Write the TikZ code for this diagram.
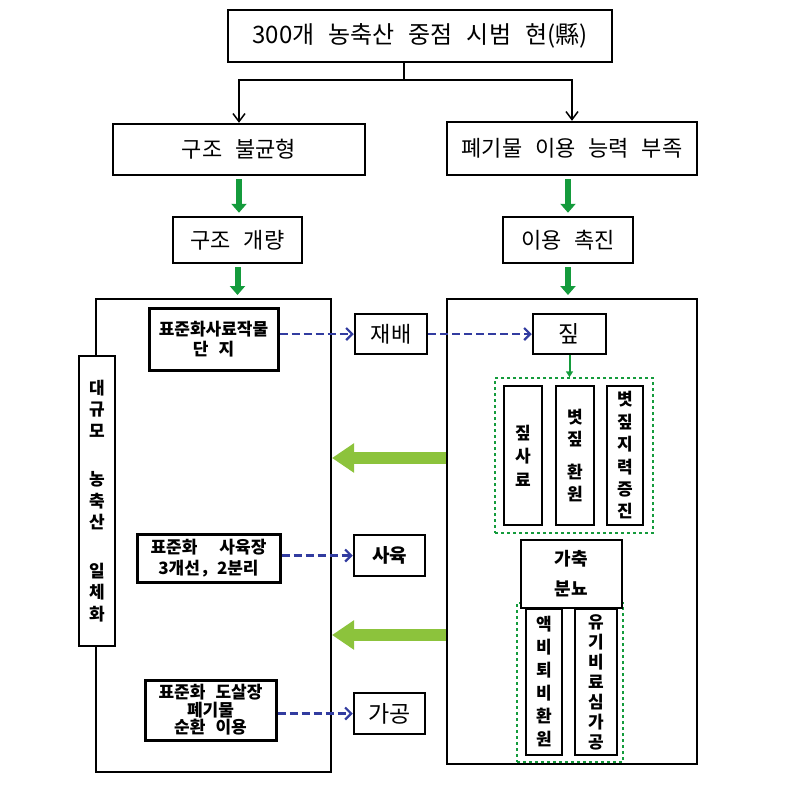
\documentclass[tikz,border=0pt]{standalone}
\usepackage{fontspec}
\setmainfont{Noto Sans CJK KR}[WordSpace=2.6]
\usetikzlibrary{arrows.meta}
\definecolor{darkgrn}{RGB}{20,155,60}
\definecolor{lightgrn}{RGB}{140,195,60}
\definecolor{dashblue}{RGB}{50,60,160}
\begin{document}
\begin{tikzpicture}[x=1pt,y=-1pt,
    box/.style={draw,line width=2.5pt,inner sep=0pt,fill=white,font=\fontsize{22}{24}\selectfont},
    bbox/.style={draw,line width=3pt,inner sep=0pt,align=center,font=\bfseries\fontsize{17}{#1}\selectfont},
    vbox/.style={draw,line width=2.5pt,inner sep=0pt,fill=white,align=center,font=\bfseries\fontsize{17}{#1}\selectfont},
    frame/.style={draw,line width=2pt,inner sep=0pt},
    grp/.style={draw=darkgrn,dashed,line width=1.5pt,inner sep=0pt},
    split/.style={line width=1.5pt,-{Straight Barb[length=8pt,width=12pt]}},
    down/.style={darkgrn,line width=6pt,-{Triangle[width=15pt,length=9pt]},shorten <=3pt,shorten >=3pt},
    back/.style={lightgrn,line width=12pt,-{Triangle[width=28pt,length=22pt]}},
    link/.style={dashblue,line width=2.2pt,dash pattern=on 8pt off 4pt,-{Straight Barb[length=6pt,width=12pt]}},
    feed/.style={darkgrn,line width=2pt,-{Triangle[width=7pt,length=6pt]}}]
    \useasboundingbox(0,0)rectangle(804,807);
    \node[box,minimum width=384pt,minimum height=52pt,font=\fontsize{24}{26}\selectfont](top)at(420,36){300개 농축산 중점 시범 현(縣)};
    \node[box,minimum width=252pt,minimum height=51pt](imbalance)at(239,149.5){구조 불균형};
    \node[box,minimum width=250pt,minimum height=53pt](shortage)at(572,148.5){폐기물 이용 능력 부족};
    \node[box,minimum width=129pt,minimum height=46pt](improve)at(237.5,240){구조 개량};
    \node[box,minimum width=130pt,minimum height=46pt](promote)at(568,240){이용 촉진};
    \node[frame,minimum width=235pt,minimum height=473pt](leftbig)at(213.5,535.5){};
    \node[frame,minimum width=250pt,minimum height=465pt](rightbig)at(572,531.5){};
    \node[vbox=21.5,minimum width=36pt,minimum height=290pt](scale)at(97,501){대\\규\\모\\[27pt]농\\축\\산\\[27pt]일\\체\\화};
    \node[bbox=20,minimum width=129pt,minimum height=62pt](feedcrop)at(213.5,339){표준화사료작물\\단 지};
    \node[bbox=21,minimum width=143pt,minimum height=48pt](pen)at(208.5,558){표준화\hspace{22pt}사육장\\3개선，2분리};
    \node[bbox=17.5,minimum width=131pt,minimum height=60pt](abattoir)at(210.5,710){표준화 도살장\\폐기물\\순환 이용};
    \node[box,minimum width=72pt,minimum height=40pt](cultivate)at(391,334){재배};
    \node[box,minimum width=71pt,minimum height=41pt,font=\bfseries\fontsize{19}{24}\selectfont](breed)at(389.5,555.5){사육};
    \node[box,minimum width=71pt,minimum height=41pt,font=\fontsize{23}{24}\selectfont](process)at(389.5,713.5){가공};
    \node[box,minimum width=73pt,minimum height=40pt,font=\fontsize{23}{24}\selectfont](straw)at(569.5,334){짚};
    \node[grp,minimum width=158pt,minimum height=155pt](strawgroup)at(574,455.5){};
    \node[vbox=23.5,minimum width=38pt,minimum height=139pt](fodder)at(523,455.5){짚\\사\\료};
    \node[vbox=22,minimum width=38pt,minimum height=139pt](return)at(575,455.5){볏\\짚\\[11pt]환\\원};
    \node[vbox=22.4,minimum width=36pt,minimum height=139pt](fertility)at(625,455.5){볏\\짚\\지\\력\\증\\진};
    \node[grp,minimum width=106pt,minimum height=159pt](manuregroup)at(570,682.5){};
    \node[vbox=30,minimum width=101pt,minimum height=68pt,font=\bfseries\fontsize{18}{30}\selectfont](manure)at(571.5,574){가축\\분뇨};
    \node[vbox=23,minimum width=36pt,minimum height=146pt](liquid)at(544,682){액\\비\\퇴\\비\\환\\원};
    \node[vbox=20,minimum width=42pt,minimum height=146pt](organic)at(596,682){유\\기\\비\\료\\심\\가\\공};
    \coordinate(fork)at(404,80);
    \coordinate(upper)at(0,458);
    \coordinate(lower)at(0,635);
    \draw[line width=1.5pt](fork|-top.south)--(fork);
    \draw[split](fork)-|(imbalance.north);
    \draw[split](fork)-|(shortage.north);
    \draw[down](imbalance.south)--(imbalance.south|-improve.north);
    \draw[down](improve.south)--(improve.south|-leftbig.north);
    \draw[down](promote.north|-shortage.south)--(promote.north);
    \draw[down](promote.south)--(promote.south|-rightbig.north);
    \draw[back](rightbig.west|-upper)--(leftbig.east|-upper);
    \draw[back](rightbig.west|-lower)--(leftbig.east|-lower);
    \draw[link](feedcrop.east|-cultivate)--(cultivate.west);
    \draw[link](cultivate.east)--(straw.west);
    \draw[link](pen.east|-breed)--(breed.west);
    \draw[link](abattoir.east|-process)--(process.west);
    \draw[feed](straw.south)--(straw.south|-strawgroup.north);
\end{tikzpicture}
\end{document}
